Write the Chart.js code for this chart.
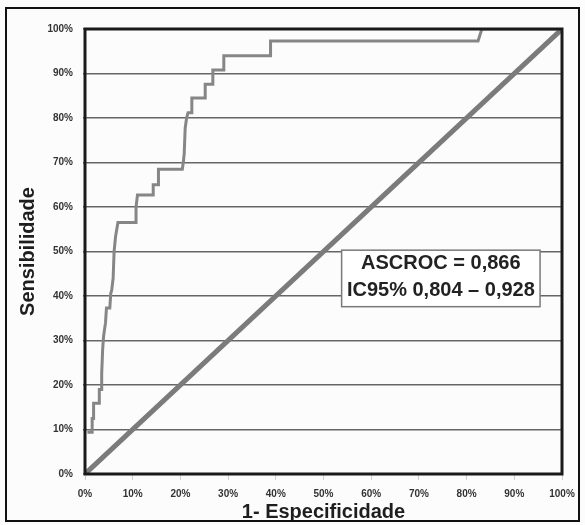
<!DOCTYPE html>
<html>
<head>
<meta charset="utf-8">
<script src="https://cdn.jsdelivr.net/npm/chart.js@4/dist/chart.umd.min.js"></script>
<style>
  html, body { margin: 0; padding: 0; background: #fcfcfc; }
  #wrap { width: 585px; height: 525px; position: relative; }
</style>
</head>
<body>
<div id="wrap"><canvas id="c" width="585" height="525"></canvas></div>
<script>
// ---- data ----
const tickLabels = ['0%','10%','20%','30%','40%','50%','60%','70%','80%','90%','100%'];
const xAxisTitle = '1- Especificidade';
const yAxisTitle = 'Sensibilidade';
// ROC curve: 1-specificity (%) and sensitivity (%)
const rocFpr = [0.5, 1.5, 1.5, 1.8, 1.8, 3.0, 3.0, 3.5, 3.5, 3.7, 3.9, 4.3, 4.5, 5.2, 5.4, 5.6, 5.9, 6.1, 6.4, 6.9, 10.7, 10.7, 11.0, 14.3, 14.3, 15.4, 15.4, 20.4, 20.6, 20.8, 21.0, 21.3, 21.6, 22.4, 22.4, 25.2, 25.2, 26.8, 26.8, 29.1, 29.1, 38.9, 38.9, 82.4, 83.2, 100];
const rocTpr = [9.4, 9.4, 12.5, 12.5, 15.9, 15.9, 19.0, 19.0, 22.5, 28.0, 31.0, 34.0, 37.3, 37.3, 40.6, 41.3, 44.0, 50.0, 53.3, 56.5, 56.5, 60.0, 62.7, 62.7, 65.0, 65.0, 68.5, 68.5, 70.0, 72.0, 77.7, 80.0, 81.2, 81.2, 84.5, 84.5, 87.6, 87.6, 90.8, 90.8, 94.0, 94.0, 97.3, 97.3, 100, 100];
// reference line
const diagX = [0, 100];
const diagY = [0, 100];
// annotation
const noteLines = ['ASCROC = 0,866', 'IC95% 0,804 \u2013 0,928'];

const FONT = "'Liberation Sans', Arial, sans-serif";

const rocPoints = rocFpr.map((x, i) => ({x: x, y: rocTpr[i]}));
const diagPoints = diagX.map((x, i) => ({x: x, y: diagY[i]}));

const framePlugin = {
  id: 'frames',
  afterDatasetsDraw(chart) {
    const {ctx, chartArea: a, scales} = chart;
    const xs = scales.x, ys = scales.y;
    // annotation box
    const bx1 = xs.getPixelForValue(53.8), bx2 = xs.getPixelForValue(95.4);
    const by1 = ys.getPixelForValue(50.3), by2 = ys.getPixelForValue(37.6);
    ctx.save();
    ctx.fillStyle = '#ffffff';
    ctx.fillRect(bx1, by1, bx2 - bx1, by2 - by1);
    ctx.strokeStyle = '#7a7a7a';
    ctx.lineWidth = 1.5;
    ctx.strokeRect(bx1, by1, bx2 - bx1, by2 - by1);
    ctx.fillStyle = '#222';
    ctx.font = 'bold 20px ' + FONT;
    ctx.textAlign = 'center';
    ctx.textBaseline = 'middle';
    const cx = xs.getPixelForValue(74.6);
    ctx.fillText(noteLines[0], cx, ys.getPixelForValue(47.3));
    ctx.fillText(noteLines[1], cx, ys.getPixelForValue(41.2));
    // plot border
    ctx.strokeStyle = '#1a1a1a';
    ctx.lineWidth = 3;
    ctx.strokeRect(a.left, a.top, a.right - a.left, a.bottom - a.top);
    ctx.restore();
  },
  afterDraw(chart) {
    const ctx = chart.ctx;
    ctx.save();
    ctx.strokeStyle = '#111';
    ctx.lineWidth = 2;
    ctx.strokeRect(6, 8, 573, 513);
    ctx.restore();
  }
};

new Chart(document.getElementById('c'), {
  type: 'line',
  data: {
    datasets: [
      {
        data: diagPoints,
        borderColor: '#7b7b7b',
        borderWidth: 5,
        pointRadius: 0,
        tension: 0,
        order: 2
      },
      {
        data: rocPoints,
        borderColor: '#868686',
        borderWidth: 3,
        pointRadius: 0,
        tension: 0,
        borderJoinStyle: 'miter',
        order: 1
      }
    ]
  },
  options: {
    responsive: false,
    animation: false,
    devicePixelRatio: 1,
    layout: { padding: { top: 29, right: 23, left: 0, bottom: 0 } },
    plugins: { legend: { display: false }, tooltip: { enabled: false } },
    scales: {
      x: {
        type: 'linear',
        min: 0, max: 100,
        afterFit(s) { s.height = 51; },
        ticks: {
          stepSize: 10,
          padding: 8,
          color: '#333333',
          font: { family: FONT, size: 10, weight: 'bold' },
          maxRotation: 0,
          callback: (v) => tickLabels[Math.round(v / 10)]
        },
        grid: { drawOnChartArea: false, drawTicks: true, tickLength: 6, color: '#d0d0d0' },
        border: { display: false },
        title: {
          display: true,
          text: xAxisTitle,
          color: '#1e1e1e',
          font: { family: FONT, size: 20, weight: 'bold' },
          padding: { top: 0, bottom: 1 }
        }
      },
      y: {
        type: 'linear',
        min: 0, max: 100,
        afterFit(s) { s.width = 85; },
        ticks: {
          stepSize: 10,
          padding: 10,
          color: '#333333',
          font: { family: FONT, size: 10, weight: 'bold' },
          callback: (v) => tickLabels[Math.round(v / 10)]
        },
        grid: { color: '#666666', lineWidth: 1.5, drawTicks: true, tickLength: 2 },
        border: { display: false },
        title: {
          display: true,
          text: yAxisTitle,
          color: '#1e1e1e',
          font: { family: FONT, size: 20, weight: 'bold' },
          padding: { top: 16, bottom: 0 }
        }
      }
    }
  },
  plugins: [framePlugin]
});
</script>
</body>
</html>
